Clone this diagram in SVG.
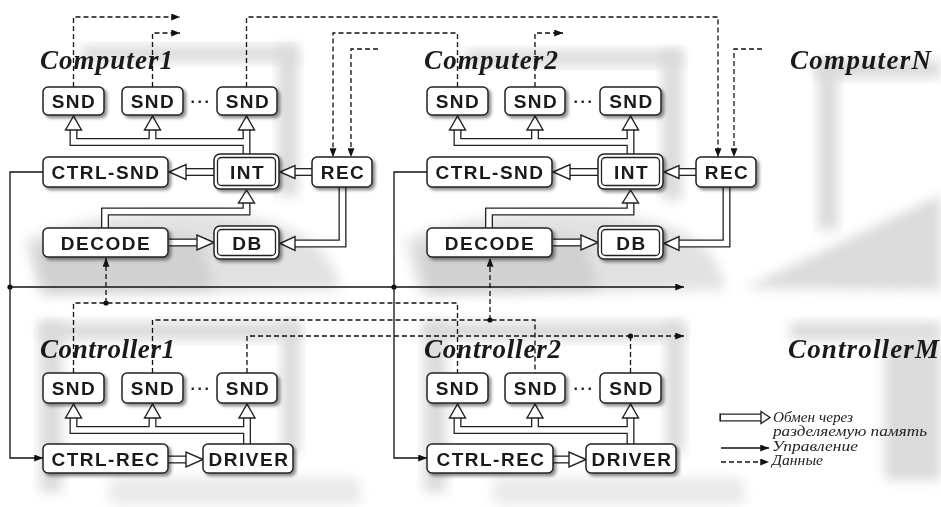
<svg xmlns="http://www.w3.org/2000/svg" width="941" height="507" viewBox="0 0 941 507">
<defs>
  <filter id="haze" x="-30%" y="-30%" width="160%" height="160%">
    <feGaussianBlur stdDeviation="6"/>
  </filter>
  <filter id="shadow" x="-15%" y="-25%" width="140%" height="160%">
    <feDropShadow dx="2.5" dy="2.5" stdDeviation="1.6" flood-color="#000" flood-opacity="0.45"/>
  </filter>
  <marker id="ah" viewBox="0 0 10 8" refX="10" refY="4" markerWidth="9" markerHeight="7" markerUnits="userSpaceOnUse" orient="auto">
    <path d="M0,0 L10,4 L0,8 z" fill="#111"/>
  </marker>
</defs>
<style>
  .box { fill:#fff; stroke:#222; stroke-width:1.5; }
  .inner { fill:none; stroke:#222; stroke-width:1.3; }
  .lbl { font-family:"Liberation Sans", Arial, sans-serif; font-weight:bold; font-size:19px; letter-spacing:1.5px; text-anchor:middle; fill:#1a1a1a; }
  .dots { font-family:"Liberation Sans", Arial, sans-serif; font-weight:bold; font-size:16px; letter-spacing:2.6px; text-anchor:middle; fill:#222; }
  .title { font-family:"Liberation Serif", "Times New Roman", serif; font-weight:bold; font-style:italic; font-size:27px; fill:#1a1a1a; }
  .po { fill:none; stroke:#222; stroke-width:8; }
  .pi { fill:none; stroke:#fff; stroke-width:5.4; }
  .head { fill:#fff; stroke:#222; stroke-width:1.4; stroke-linejoin:miter; }
  .ctl { fill:none; stroke:#111; stroke-width:1.3; }
  .dat { fill:none; stroke:#111; stroke-width:1.3; stroke-dasharray:5 3; }
  .jn { fill:#111; }
  .haze { fill:#cfcfcf; filter:url(#haze); }
  .deep { fill:#b8b8b8; filter:url(#haze); }
  .leg { font-family:"Liberation Serif", "Times New Roman", serif; font-style:italic; font-size:14px; fill:#222; }
</style>

<rect width="941" height="507" fill="#fff"/>

<!-- faint backdrop silhouettes of the machines -->
<g id="backdrop" opacity="0.75">
  <rect class="haze" x="82" y="46" width="215" height="16"/>
  <rect class="haze" x="278" y="46" width="20" height="150"/>
  <path class="haze" d="M25,240 C80,215 180,205 240,215 C300,225 335,250 340,290 L40,295 Z" opacity="0.8"/>
  <path class="deep" d="M35,250 C70,232 150,228 200,240 L215,290 L45,292 Z" opacity="0.7"/>
  <rect class="haze" x="466" y="50" width="215" height="16"/>
  <rect class="haze" x="662" y="50" width="20" height="150"/>
  <path class="haze" d="M405,240 C460,215 560,205 620,215 C690,225 720,250 725,290 L420,295 Z" opacity="0.8"/>
  <path class="deep" d="M419,250 C454,232 534,228 584,240 L599,290 L429,292 Z" opacity="0.7"/>
  <rect class="haze" x="815" y="60" width="126" height="18"/>
  <rect class="haze" x="818" y="60" width="20" height="170"/>
  <path class="haze" d="M745,288 L941,195 L941,290 Z"/>
  <rect class="haze" x="40" y="322" width="260" height="18"/>
  <rect class="haze" x="40" y="322" width="22" height="170"/>
  <rect class="haze" x="282" y="322" width="18" height="130"/>
  <rect class="haze" x="110" y="478" width="250" height="26" opacity="0.6"/>
  <rect class="haze" x="424" y="322" width="260" height="18"/>
  <rect class="haze" x="424" y="322" width="22" height="170"/>
  <rect class="haze" x="666" y="322" width="18" height="130"/>
  <rect class="haze" x="494" y="478" width="250" height="26" opacity="0.6"/>
  <rect class="haze" x="790" y="322" width="151" height="18"/>
  <rect class="haze" x="885" y="340" width="56" height="140"/>
</g>

<!-- connectors -->
<g id="connectors">
  <!-- shared-memory exchange: double-line pipes (outer dark, inner white) -->
  <g id="pipes">
    <path class="po" d="M246.5,155 V129 M246.5,142 H73.5 V129 M152.5,142 V129"/>
    <path class="po" d="M215,172 H185"/>
    <path class="po" d="M313,172 H293"/>
    <path class="po" d="M169,242.5 H198"/>
    <path class="po" d="M342.5,186 V243.5 H294"/>
    <path class="po" d="M105,229 V211.5 H246.5 V202"/>
    <path class="po" d="M630.5,155 V129 M630.5,142 H457.5 V129 M535,142 V129"/>
    <path class="po" d="M599,172 H569"/>
    <path class="po" d="M697,172 H677"/>
    <path class="po" d="M553,242.5 H582"/>
    <path class="po" d="M726.5,186 V243.5 H678"/>
    <path class="po" d="M489,229 V211.5 H630.5 V202"/>
    <path class="po" d="M247,445 V417 M247,430 H73.5 V417 M152.5,430 V417"/>
    <path class="po" d="M168,459.5 H187"/>
    <path class="po" d="M630.5,445 V417 M630.5,430 H457.5 V417 M535,430 V417"/>
    <path class="po" d="M553,459.5 H570"/>

    <path class="pi" d="M246.5,155 V129 M246.5,142 H73.5 V129 M152.5,142 V129"/>
    <path class="pi" d="M215,172 H185"/>
    <path class="pi" d="M313,172 H293"/>
    <path class="pi" d="M169,242.5 H198"/>
    <path class="pi" d="M342.5,186 V243.5 H294"/>
    <path class="pi" d="M105,229 V211.5 H246.5 V202"/>
    <path class="pi" d="M630.5,155 V129 M630.5,142 H457.5 V129 M535,142 V129"/>
    <path class="pi" d="M599,172 H569"/>
    <path class="pi" d="M697,172 H677"/>
    <path class="pi" d="M553,242.5 H582"/>
    <path class="pi" d="M726.5,186 V243.5 H678"/>
    <path class="pi" d="M489,229 V211.5 H630.5 V202"/>
    <path class="pi" d="M247,445 V417 M247,430 H73.5 V417 M152.5,430 V417"/>
    <path class="pi" d="M168,459.5 H187"/>
    <path class="pi" d="M630.5,445 V417 M630.5,430 H457.5 V417 M535,430 V417"/>
    <path class="pi" d="M553,459.5 H570"/>

    <!-- hollow heads -->
    <polygon class="head" points="73.5,116 65.5,130 81.5,130"/>
    <polygon class="head" points="152.5,116 144.5,130 160.5,130"/>
    <polygon class="head" points="246.5,116 238.5,130 254.5,130"/>
    <polygon class="head" points="169,172 186,164.5 186,179.5"/>
    <polygon class="head" points="280,172 295,165.5 295,178.5"/>
    <polygon class="head" points="214,242.5 197,235 197,250"/>
    <polygon class="head" points="280,243.5 295,236.5 295,250.5"/>
    <polygon class="head" points="246.5,190 238.5,203 254.5,203"/>

    <polygon class="head" points="457.5,116 449.5,130 465.5,130"/>
    <polygon class="head" points="535,116 527,130 543,130"/>
    <polygon class="head" points="630.5,116 622.5,130 638.5,130"/>
    <polygon class="head" points="553,172 570,164.5 570,179.5"/>
    <polygon class="head" points="664,172 679,165.5 679,178.5"/>
    <polygon class="head" points="598,242.5 581,235 581,250"/>
    <polygon class="head" points="664,243.5 679,236.5 679,250.5"/>
    <polygon class="head" points="630.5,190 622.5,203 638.5,203"/>

    <polygon class="head" points="73.5,404 65.5,418 81.5,418"/>
    <polygon class="head" points="152.5,404 144.5,418 160.5,418"/>
    <polygon class="head" points="247,404 239,418 255,418"/>
    <polygon class="head" points="203,459.5 186,452 186,467"/>

    <polygon class="head" points="457.5,404 449.5,418 465.5,418"/>
    <polygon class="head" points="535,404 527,418 543,418"/>
    <polygon class="head" points="630.5,404 622.5,418 638.5,418"/>
    <polygon class="head" points="586,459.5 569,452 569,467"/>
  </g>

  <!-- control lines -->
  <g id="control">
    <path class="ctl" d="M43,172 H10 V458 H43" marker-end="url(#ah)"/>
    <path class="ctl" d="M10,287 H684" marker-end="url(#ah)"/>
    <path class="ctl" d="M427,172 H394 V458 H427" marker-end="url(#ah)"/>
    <circle class="jn" cx="10" cy="287" r="2.6"/>
    <circle class="jn" cx="394" cy="287" r="2.6"/>
  </g>

  <!-- data lines -->
  <g id="data">
    <path class="dat" d="M73.5,87 V17 H180" marker-end="url(#ah)"/>
    <path class="dat" d="M152.5,87 V33 H180" marker-end="url(#ah)"/>
    <path class="dat" d="M246.5,87 V17 H718 V157" marker-end="url(#ah)"/>
    <path class="dat" d="M457.5,87 V33 H333 V157" marker-end="url(#ah)"/>
    <path class="dat" d="M535,87 V33 H563" marker-end="url(#ah)"/>
    <path class="dat" d="M378,49 H351 V157" marker-end="url(#ah)"/>
    <path class="dat" d="M762,49 H734 V157" marker-end="url(#ah)"/>

    <path class="dat" d="M106,303 V258" marker-end="url(#ah)"/>
    <path class="dat" d="M490,320 V258" marker-end="url(#ah)"/>
    <path class="dat" d="M73.5,373 V303 H457.5 V373"/>
    <path class="dat" d="M152.5,373 V320 H535 V373"/>
    <path class="dat" d="M247,373 V336 H684" marker-end="url(#ah)"/>
    <path class="dat" d="M630.5,336 V373"/>
    <circle class="jn" cx="106" cy="303" r="2.6"/>
    <circle class="jn" cx="490" cy="320" r="2.6"/>
    <circle class="jn" cx="630.5" cy="336" r="2.6"/>
  </g>
</g>

<!-- Computer1 -->
<g id="computer1">
  <text class="title" x="40" y="69" textLength="133" lengthAdjust="spacing">Computer1</text>
  <g id="c1-snd1"><rect class="box" filter="url(#shadow)" x="43" y="87" width="61" height="28" rx="5"/><text class="lbl" x="74" y="108">SND</text></g>
  <g id="c1-snd2"><rect class="box" filter="url(#shadow)" x="122" y="87" width="61" height="28" rx="5"/><text class="lbl" x="153" y="108">SND</text></g>
  <text class="dots" x="201" y="103">...</text>
  <g id="c1-snd3"><rect class="box" filter="url(#shadow)" x="217" y="87" width="60" height="28" rx="5"/><text class="lbl" x="248" y="108">SND</text></g>
  <g id="c1-ctrl-snd"><rect class="box" filter="url(#shadow)" x="43" y="157" width="125" height="30" rx="5"/><text class="lbl" x="106" y="179">CTRL-SND</text></g>
  <g id="c1-int"><rect class="box" filter="url(#shadow)" x="214" y="154" width="65" height="35" rx="6"/><rect class="inner" x="217.5" y="157.5" width="58" height="28" rx="4"/><text class="lbl" x="247.5" y="179">INT</text></g>
  <g id="c1-rec"><rect class="box" filter="url(#shadow)" x="312" y="157" width="60" height="30" rx="5"/><text class="lbl" x="343" y="179">REC</text></g>
  <g id="c1-decode"><rect class="box" filter="url(#shadow)" x="43" y="228" width="125" height="29" rx="5"/><text class="lbl" x="106" y="249.5">DECODE</text></g>
  <g id="c1-db"><rect class="box" filter="url(#shadow)" x="214" y="226" width="65" height="33" rx="6"/><rect class="inner" x="217.5" y="229.5" width="58" height="26" rx="4"/><text class="lbl" x="247.5" y="249.5">DB</text></g>
</g>

<!-- Computer2 -->
<g id="computer2">
  <text class="title" x="424" y="69" textLength="134" lengthAdjust="spacing">Computer2</text>
  <g id="c2-snd1"><rect class="box" filter="url(#shadow)" x="427" y="87" width="61" height="28" rx="5"/><text class="lbl" x="458" y="108">SND</text></g>
  <g id="c2-snd2"><rect class="box" filter="url(#shadow)" x="505" y="87" width="60" height="28" rx="5"/><text class="lbl" x="536" y="108">SND</text></g>
  <text class="dots" x="584" y="103">...</text>
  <g id="c2-snd3"><rect class="box" filter="url(#shadow)" x="600" y="87" width="61" height="28" rx="5"/><text class="lbl" x="631.5" y="108">SND</text></g>
  <g id="c2-ctrl-snd"><rect class="box" filter="url(#shadow)" x="427" y="157" width="125" height="30" rx="5"/><text class="lbl" x="490" y="179">CTRL-SND</text></g>
  <g id="c2-int"><rect class="box" filter="url(#shadow)" x="598" y="154" width="65" height="35" rx="6"/><rect class="inner" x="601.5" y="157.5" width="58" height="28" rx="4"/><text class="lbl" x="631.5" y="179">INT</text></g>
  <g id="c2-rec"><rect class="box" filter="url(#shadow)" x="696" y="157" width="60" height="30" rx="5"/><text class="lbl" x="727" y="179">REC</text></g>
  <g id="c2-decode"><rect class="box" filter="url(#shadow)" x="427" y="228" width="125" height="29" rx="5"/><text class="lbl" x="490" y="249.5">DECODE</text></g>
  <g id="c2-db"><rect class="box" filter="url(#shadow)" x="598" y="226" width="65" height="33" rx="6"/><rect class="inner" x="601.5" y="229.5" width="58" height="26" rx="4"/><text class="lbl" x="631.5" y="249.5">DB</text></g>
</g>

<!-- ComputerN -->
<g id="computerN">
  <text class="title" x="790" y="69" textLength="141" lengthAdjust="spacing">ComputerN</text>
</g>

<!-- Controller1 -->
<g id="controller1">
  <text class="title" x="40" y="358" textLength="135" lengthAdjust="spacing">Controller1</text>
  <g id="k1-snd1"><rect class="box" filter="url(#shadow)" x="43" y="373" width="61" height="30" rx="5"/><text class="lbl" x="74" y="395">SND</text></g>
  <g id="k1-snd2"><rect class="box" filter="url(#shadow)" x="122" y="373" width="61" height="30" rx="5"/><text class="lbl" x="153" y="395">SND</text></g>
  <text class="dots" x="201" y="390">...</text>
  <g id="k1-snd3"><rect class="box" filter="url(#shadow)" x="217" y="373" width="60" height="30" rx="5"/><text class="lbl" x="248" y="395">SND</text></g>
  <g id="k1-ctrl-rec"><rect class="box" filter="url(#shadow)" x="43" y="444" width="125" height="29" rx="5"/><text class="lbl" x="106" y="465.5">CTRL-REC</text></g>
  <g id="k1-driver"><rect class="box" filter="url(#shadow)" x="203" y="444" width="90" height="29" rx="5"/><text class="lbl" x="249" y="465.5">DRIVER</text></g>
</g>

<!-- Controller2 -->
<g id="controller2">
  <text class="title" x="424" y="358" textLength="137" lengthAdjust="spacing">Controller2</text>
  <g id="k2-snd1"><rect class="box" filter="url(#shadow)" x="427" y="373" width="61" height="30" rx="5"/><text class="lbl" x="458" y="395">SND</text></g>
  <g id="k2-snd2"><rect class="box" filter="url(#shadow)" x="505" y="373" width="60" height="30" rx="5"/><text class="lbl" x="536" y="395">SND</text></g>
  <text class="dots" x="584" y="390">...</text>
  <g id="k2-snd3"><rect class="box" filter="url(#shadow)" x="600" y="373" width="61" height="30" rx="5"/><text class="lbl" x="631.5" y="395">SND</text></g>
  <g id="k2-ctrl-rec"><rect class="box" filter="url(#shadow)" x="427" y="444" width="126" height="29" rx="5"/><text class="lbl" x="491" y="465.5">CTRL-REC</text></g>
  <g id="k2-driver"><rect class="box" filter="url(#shadow)" x="586" y="444" width="90" height="29" rx="5"/><text class="lbl" x="632" y="465.5">DRIVER</text></g>
</g>

<!-- ControllerM -->
<g id="controllerM">
  <text class="title" x="788" y="358" textLength="151" lengthAdjust="spacing">ControllerM</text>
</g>

<!-- legend -->
<g id="legend">
  <path class="po" d="M720,417.5 H763"/>
  <path class="pi" d="M721,417.5 H763"/>
  <line x1="720" y1="413.5" x2="720" y2="421.5" stroke="#222" stroke-width="1.3"/>
  <polygon class="head" points="770,417.5 761,411.5 761,423.5"/>
  <text class="leg" x="773" y="422" textLength="80" lengthAdjust="spacingAndGlyphs">Обмен через</text>
  <text class="leg" x="773" y="436" textLength="154" lengthAdjust="spacingAndGlyphs">разделяемую память</text>
  <path class="ctl" d="M721,448 H769" marker-end="url(#ah)"/>
  <text class="leg" x="772" y="451" textLength="86" lengthAdjust="spacingAndGlyphs">Управление</text>
  <path class="dat" d="M721,462 H769" marker-end="url(#ah)"/>
  <text class="leg" x="772" y="465" textLength="51" lengthAdjust="spacingAndGlyphs">Данные</text>
</g>
</svg>
